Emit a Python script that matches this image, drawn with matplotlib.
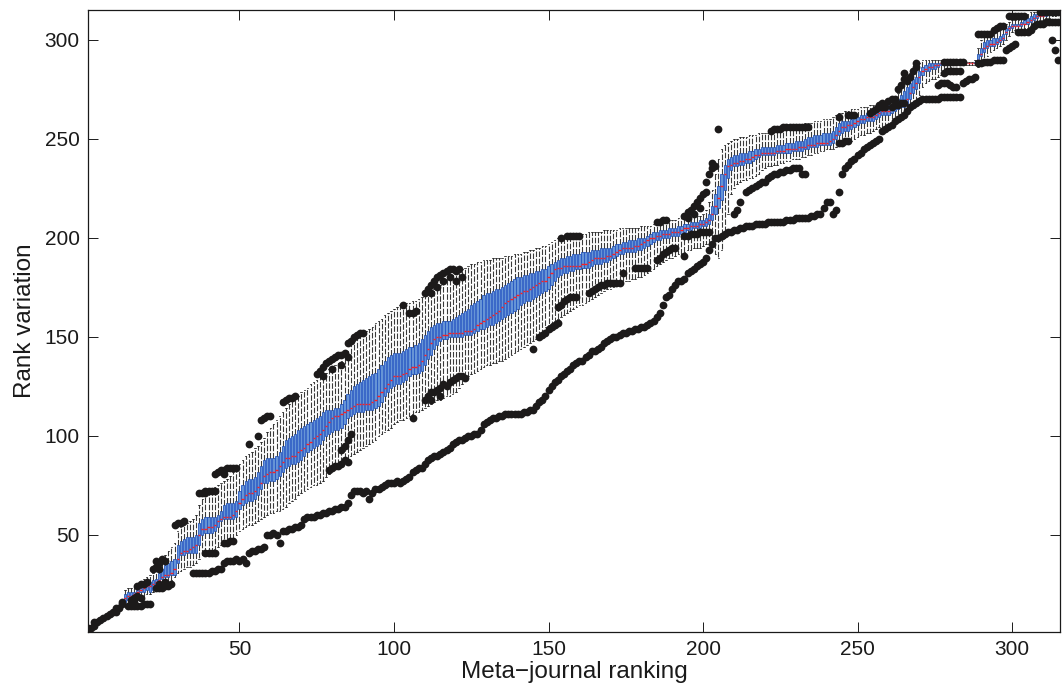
import numpy as np
import matplotlib
matplotlib.use("Agg")
import matplotlib.pyplot as plt

plt.rcParams['font.family'] = ['Liberation Sans', 'DejaVu Sans']

# ---------------- data (one box per meta-journal rank 1..315) ----------------
med = [1,2,3,5,6,7,8,10,11,12,
       13,15,18,19,19,20,21,22,23,24,
       24,25,26,27,29,30,30,31,33,38,
       41,42,42,43,44,45,50,53,53,54,
       54,55,57,58,59,59,59,60,62,66,
       68,70,71,71,72,74,76,80,81,82,
       82,83,85,87,89,89,90,90,92,93,
       94,96,97,99,100,101,103,105,107,109,
       110,110,111,112,113,114,115,116,116,116,
       116,116,117,118,120,122,124,126,128,130,
       130,130,131,132,134,135,135,136,138,141,
       144,147,149,150,150,151,151,152,152,152,
       152,152,153,153,153,154,156,157,158,159,
       160,161,162,163,165,167,168,169,170,171,
       172,173,173,174,175,176,177,178,178,180,
       182,184,185,185,186,186,186,186,186,186,
       187,187,188,189,190,190,190,190,191,191,
       192,193,194,195,195,195,195,196,196,197,
       198,199,200,200,201,201,202,202,202,203,
       203,203,204,205,205,206,206,206,207,207,
       208,209,212,216,220,226,232,236,237,238,
       238,239,239,240,240,241,242,242,243,243,
       243,243,243,244,244,244,245,245,245,245,
       246,246,246,247,247,247,248,248,248,248,
       249,250,252,254,256,256,257,257,258,259,
       260,260,261,261,261,262,263,264,264,264,
       265,266,267,267,268,270,273,276,278,281,
       284,285,286,286,287,287,288,288,288,288,
       288,288,288,288,288,288,288,288,290,293,
       296,297,298,298,299,300,301,304,306,307,
       307,307,308,308,309,310,311,312,312,312,
       313,313,314,314,315]

q1 = [1,2,3,5,6,7,8,10,11,12,
      13,15,16,17,17,19,20,21,21,22,
      21,22,25,26,28,29,29,30,30,36,
      40,40,41,41,41,41,45,50,51,51,
      51,52,54,57,58,58,58,58,59,63,
      65,66,67,67,68,70,73,76,76,77,
      77,78,80,82,84,85,86,86,87,88,
      90,92,93,94,95,96,98,100,101,102,
      103,103,104,106,109,110,111,112,112,112,
      113,113,113,114,115,117,120,122,124,125,
      126,126,127,128,130,131,131,132,133,136,
      139,141,144,146,148,149,149,150,150,150,
      150,150,151,151,151,152,153,154,154,155,
      156,156,157,158,159,160,161,162,163,164,
      166,167,168,168,169,170,171,172,173,174,
      176,178,180,181,182,182,183,183,184,184,
      185,185,185,186,187,187,187,188,188,189,
      190,191,192,192,193,193,193,193,194,194,
      195,196,197,198,199,199,200,200,200,201,
      201,201,202,203,204,204,205,205,205,206,
      206,207,209,212,215,219,224,230,234,236,
      236,237,237,238,238,239,240,241,242,242,
      242,242,242,243,243,243,243,243,244,244,
      244,244,245,245,246,246,246,247,247,247,
      247,248,250,252,253,254,254,255,256,257,
      258,258,259,259,259,260,261,262,262,262,
      263,264,265,266,266,267,270,273,275,278,
      282,284,284,285,285,286,287,287,288,288,
      288,288,288,288,288,288,288,288,288,292,
      294,296,297,297,298,299,300,303,305,306,
      307,307,307,308,308,309,310,311,312,312,
      312,313,313,314,314]

q3 = [1,2,3,5,6,7,8,10,11,12,
      13,15,20,21,21,21,22,23,25,26,
      26,27,28,31,33,35,36,37,38,45,
      47,48,49,49,49,50,56,58,59,59,
      59,59,60,62,65,66,66,66,67,72,
      75,77,78,78,79,82,85,88,89,89,
      89,90,92,95,98,99,100,101,103,104,
      105,106,107,108,109,110,112,113,113,113,
      114,114,116,118,121,123,125,126,127,128,
      129,130,131,132,134,136,138,140,141,142,
      142,142,143,144,145,145,146,147,149,151,
      153,155,156,157,157,158,158,158,159,160,
      161,162,163,164,166,167,168,169,171,172,
      172,173,174,174,175,176,177,178,179,180,
      180,181,181,182,182,183,183,184,184,186,
      187,188,189,190,190,191,191,192,192,192,
      193,193,193,194,194,194,195,195,195,195,
      196,197,197,198,198,199,199,199,200,200,
      200,201,202,203,203,204,204,204,205,205,
      205,206,206,207,207,208,208,208,209,209,
      210,212,216,222,226,232,237,240,241,242,
      242,243,243,243,244,244,245,245,246,246,
      246,246,246,247,247,247,248,248,248,249,
      249,249,250,251,251,252,252,252,253,253,
      253,254,256,258,259,259,259,260,261,261,
      262,262,263,263,264,265,265,266,266,267,
      267,268,270,272,274,276,278,280,281,284,
      286,287,288,288,288,288,288,289,288,288,
      288,288,288,288,288,288,288,289,293,296,
      299,300,300,301,301,302,303,306,307,308,
      308,308,309,310,311,312,313,313,313,313,
      314,314,315,315,315]

whislo = [1,2,3,5,6,7,8,10,11,12,
          13,15,15,15,16,16,17,18,19,20,
          20,21,22,23,23,24,25,27,29,31,
          32,33,34,34,35,36,38,40,41,42,
          42,43,44,45,46,46,47,48,50,52,
          53,54,55,55,56,57,58,59,60,61,
          61,62,62,63,64,66,67,68,70,71,
          72,73,74,75,75,76,77,79,81,83,
          84,86,87,88,89,90,91,92,93,94,
          95,96,97,98,100,101,102,103,104,106,
          107,108,108,109,110,111,112,112,113,114,
          115,116,117,118,118,119,120,120,121,122,
          124,126,128,130,131,132,133,134,135,136,
          136,137,137,138,138,139,140,141,142,143,
          144,145,146,147,148,149,151,153,155,156,
          157,158,159,160,161,162,163,164,165,166,
          166,167,168,169,170,171,172,173,174,174,
          175,176,177,177,178,178,179,179,180,180,
          181,182,183,184,186,187,188,189,190,190,
          191,192,192,193,194,194,195,195,195,196,
          197,197,196,192,190,194,200,212,222,225,
          227,228,229,229,230,230,231,232,234,235,
          236,236,237,237,238,238,239,239,240,240,
          240,241,241,242,242,243,243,244,244,245,
          245,245,246,247,247,248,248,249,250,251,
          252,252,253,253,254,255,256,256,257,258,
          258,259,260,261,262,264,266,268,270,272,
          276,278,279,280,280,281,282,283,285,286,
          287,287,287,287,287,287,287,287,286,288,
          290,292,294,295,296,297,298,300,302,304,
          305,305,305,306,306,307,308,309,310,310,
          311,311,312,312,313]

whishi = [1,2,3,5,6,7,8,10,11,12,
          13,15,22,23,23,24,25,26,28,29,
          30,31,33,35,37,40,42,44,46,52,
          54,55,56,57,58,60,65,68,70,72,
          73,74,75,76,77,78,80,82,84,86,
          88,90,91,92,94,95,97,99,102,104,
          106,108,110,112,114,116,118,119,120,122,
          123,124,126,127,128,130,131,132,134,135,
          136,137,138,140,143,146,148,150,151,152,
          153,154,155,157,158,159,161,162,163,164,
          165,166,166,167,167,168,168,169,170,171,
          172,173,174,175,176,178,179,180,181,182,
          183,184,185,186,187,187,188,188,189,189,
          189,190,190,190,190,191,191,191,192,192,
          192,193,193,194,194,195,195,196,196,197,
          198,199,200,200,201,201,201,201,202,202,
          202,202,203,203,203,203,203,204,204,204,
          204,204,205,205,205,205,205,205,205,206,
          206,206,206,207,207,208,208,209,209,209,
          209,210,210,210,210,210,211,211,211,212,
          214,218,224,232,240,245,247,248,249,250,
          250,251,251,251,252,252,252,253,253,253,
          253,254,254,254,255,255,255,256,256,256,
          257,257,258,258,258,259,259,259,260,260,
          260,261,262,263,263,264,264,265,265,265,
          266,266,266,267,267,267,268,268,268,268,
          269,271,273,276,279,281,283,285,286,288,
          290,290,290,290,290,290,290,290,289,289,
          289,289,289,289,289,289,289,290,296,300,
          302,302,303,303,304,305,306,308,309,310,
          310,310,311,312,313,314,314,314,315,315,
          315,315,315,315,315]

# lower outlier band (one dot per rank, ranks 35..315)
far_start = 35
far_y = [31,31,31,31,31,31,32,32,33,33,
         36,37,37,37,38,37,38,36,41,42,
         42,43,43,44,50,50,51,50,46,52,
         52,53,53,54,54,55,58,59,59,59,
         60,60,61,61,62,62,63,63,64,64,
         66,70,72,72,72,71,72,68,71,73,
         73,74,75,76,76,76,77,76,77,78,
         79,82,83,84,84,86,88,89,90,90,
         91,92,93,94,96,97,98,98,99,100,
         100,101,101,103,106,107,108,109,109,110,
         110,111,111,111,111,111,111,112,112,113,
         113,115,117,118,120,123,125,127,128,130,
         131,133,134,136,137,138,138,140,141,143,
         143,144,145,147,148,149,150,150,151,152,
         152,153,153,154,154,155,155,156,157,158,
         160,162,166,170,171,174,176,178,178,179,
         182,183,184,186,187,188,190,194,197,200,
         200,201,202,203,203,204,204,205,205,206,
         206,206,207,207,207,207,208,208,208,208,
         208,208,209,209,209,210,210,210,210,210,
         211,211,212,212,215,218,218,212,214,223,
         232,235,237,239,240,242,243,245,246,247,
         248,249,250,254,255,256,257,259,260,261,
         262,264,266,267,268,269,270,270,270,270,
         270,270,271,271,271,271,271,271,271,278,
         279,280,280,281,288,288,289,289,289,290,
         290,290,290,295,296,297,298,304,304,304,
         304,305,307,308,308,308,309,309,309,309,309]

# first ranks (no spread): single dots
early_pts = [(1,1),(1,3),(2,3),(3,4),(3,6),(4,6),(5,7),(6,8),(7,9),(8,10),
             (9,11),(10,11),(10,13),(11,13),(12,15),(12,16)]

# upper outliers
upper_pts = [(17,24),(18,25),(19,25),(20,26),
             (22,33),(23,34),(23,37),(24,36),(25,38),(26,37),(24,33),
             (29,55),(30,56),(31,56),(32,57),
             (37,71),(38,71),(39,72),(40,72),(41,72),(42,72),(39,71),
             (42,81),(43,82),(44,83),(45,83),(46,84),(47,84),(48,84),(49,84),(45,81),
             (53,96),(56,100),(57,108),(58,109),(59,110),(60,110),
             (64,117),(65,118),(66,119),(67,119),(68,120),
             (75,131),(76,133),(77,135),(78,137),(79,138),(80,139),(81,140),(82,141),
             (83,141),(84,142),(77,130),(80,134),(83,136),(85,140),
             (85,147),(86,148),(87,150),(88,151),(89,152),(90,152),
             (103,166),(105,162),(106,162),(107,163),
             (110,172),(111,174),(112,176),(113,178),(114,180),(115,181),(116,182),
             (117,183),(118,184),(119,184),(120,183),(121,184),(112,172),(114,175),
             (116,178),(118,180),(120,178),(122,180),
             (154,200),(156,201),(157,201),(158,201),(159,201),(160,201),
             (185,208),(186,208),(187,209),(188,209),
             (194,211),(195,213),(196,214),(197,216),(198,218),(199,220),(200,222),
             (201,223),(195,210),(197,212),(199,215),
             (201,228),(202,232),(203,235),(203,238),(204,236),
             (205,255),
             (222,254),(223,255),(224,255),(225,255),(226,256),(227,256),(228,256),
             (229,256),(230,256),(231,256),(232,256),(233,256),(234,256),
             (244,261),(247,262),(248,262),(249,262),
             (254,263),(255,264),(256,265),(257,266),(258,266),(259,266),(257,267),
             (258,268),(260,269),(261,270),(262,270),
             (263,275),(264,277),(265,280),(265,283),(266,279),
             (267,281),(268,284),(269,286),(269,288),
             (278,289),(279,289),(280,289),(281,289),(282,289),(283,289),(284,289),
             (289,303),(290,303),(291,303),(292,303),(293,303),(294,305),(295,306),
             (296,307),(297,307),
             (299,312),(300,312),(301,312),(302,312),(303,312),(304,312),
             (309,314),(310,314),(311,314),(312,314),(313,314),(314,314),(315,314)]

# lower outliers close to the boxes
lower_pts = [(14,14),(15,14),(16,14),(17,14),(18,14),(19,15),(20,15),(21,15),
             (15,17),(16,18),(17,19),(18,18),(16,16),
             (23,23),(24,23),(25,23),(26,24),(27,24),(28,25),(24,25),(26,26),
             (39,41),(40,41),(41,41),(42,41),(45,46),(46,46),(47,47),(48,47),
             (79,83),(80,84),(81,85),(82,85),(83,86),(84,88),(85,87),(83,93),
             (84,95),(85,98),(86,101),
             (106,109),(110,118),(111,120),(112,122),(113,122),(114,123),(115,124),
             (116,126),(117,125),(118,127),(119,128),(120,129),(121,130),(122,130),
             (123,129),(112,118),(115,120),
             (145,144),(147,150),(148,151),(149,152),(150,154),(151,155),(152,156),
             (153,157),
             (153,165),(154,166),(155,168),(156,169),(157,170),(158,170),(159,170),
             (163,172),(164,173),(165,174),(166,175),(167,176),(168,176),(169,177),
             (170,177),(171,177),(172,177),(173,177),
             (174,182),(178,185),(179,185),(180,185),(181,185),(182,185),
             (185,189),(186,190),(187,192),(188,193),(189,194),(190,195),(191,195),
             (194,191),
             (194,201),(195,201),(196,202),(197,202),(198,202),(199,203),(200,203),
             (201,203),(202,203),
             (210,212),(211,214),(212,218),(214,223),(215,224),(216,225),(217,226),
             (218,227),(219,228),(220,228),
             (221,230),(222,231),(223,232),(224,232),(225,233),(226,233),(227,234),
             (228,234),(229,235),(230,235),(231,235),(232,232),(233,232),
             (244,248),(245,248),(246,249),(247,249),
             (261,266),(262,267),(263,267),(264,268),(265,268),
             (276,277),(277,278),(278,278),(279,278),(280,277),(281,276),(282,276),
             (278,283),(279,284),(280,284),(281,284),(282,284),(283,284),
             (313,300),(314,295),(315,290)]

x_ticks = [50, 100, 150, 200, 250, 300]
y_ticks = [50, 100, 150, 200, 250, 300]

# ---------------- figure ----------------
fig = plt.figure(figsize=(10.62, 6.92), dpi=100)
ax = fig.add_axes([88/1062, 60/692, 972/1062, 622/692])

positions = np.arange(1, len(med) + 1)
stats = [dict(med=m, q1=a, q3=b, whislo=lo, whishi=hi, fliers=[])
         for m, a, b, lo, hi in zip(med, q1, q3, whislo, whishi)]

ax.bxp(stats, positions=positions, widths=0.72, patch_artist=True,
       showfliers=False, manage_ticks=False, capwidths=0.5,
       boxprops=dict(facecolor='#6694d6', edgecolor='#2457c2', linewidth=0.6),
       medianprops=dict(color='#ff2020', linewidth=1.0),
       whiskerprops=dict(color='#3a3a3a', linewidth=0.8, linestyle=(0, (5, 1.5))),
       capprops=dict(color='black', linewidth=0.5))

far_x = np.arange(far_start, far_start + len(far_y))
ex, ey = zip(*early_pts)
ux, uy = zip(*upper_pts)
lx, ly = zip(*lower_pts)
dot = dict(linestyle='none', marker='o', color='#1c1a1a', markersize=5.6,
           markeredgewidth=0, zorder=4)
ax.plot(far_x, far_y, **dot)
ax.plot(ex, ey, **dot)
ax.plot(ux, uy, **dot)
ax.plot(lx, ly, **dot)

ax.set_xlim(1, 315.5)
ax.set_ylim(1, 315)
ax.set_xticks(x_ticks)
ax.set_yticks(y_ticks)
ax.tick_params(direction='in', length=7.5, width=0.7, labelsize=15,
               top=True, right=True, pad=6, colors='#1a1a1a')
for s in ax.spines.values():
    s.set_linewidth(0.9)
    s.set_color('#1a1a1a')

ax.set_xlabel('Meta\u2212journal ranking', fontsize=17.5, labelpad=1, color='#1a1a1a')
ax.set_ylabel('Rank variation', fontsize=17.5, labelpad=6, color='#1a1a1a')

fig.savefig('out.png', dpi=100)
